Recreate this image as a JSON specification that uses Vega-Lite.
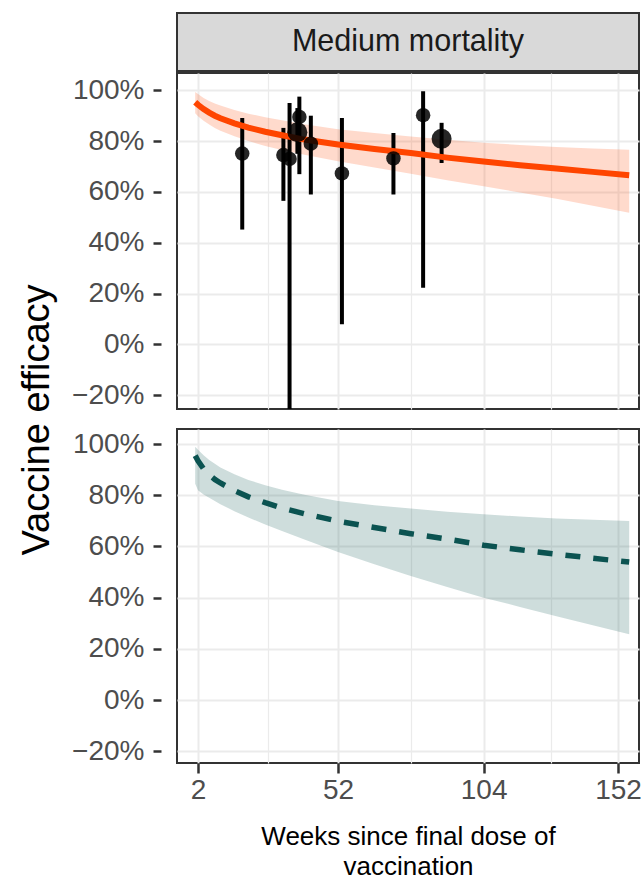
{
  "$schema": "https://vega.github.io/schema/vega-lite/v6.json",
  "background": "white",
  "padding": {"left": 18, "top": 12, "right": 4, "bottom": 2},
  "spacing": 17,
  "title": {"text": "Vaccine efficacy", "orient": "left", "anchor": "middle", "fontSize": 38, "fontWeight": "normal", "color": "#000000", "font": "Liberation Sans", "offset": 14, "dx": 26},
  "config": {
    "font": "Liberation Sans",
    "view": {"stroke": "#333333", "strokeWidth": 2}
  },
  "datasets": {
    "curves": [
      {"week": 1, "model": "fit", "est": 0.953, "lo": 0.910, "hi": 0.993},
      {"week": 2, "model": "fit", "est": 0.943, "lo": 0.898, "hi": 0.985},
      {"week": 4, "model": "fit", "est": 0.926, "lo": 0.880, "hi": 0.970},
      {"week": 6, "model": "fit", "est": 0.912, "lo": 0.865, "hi": 0.958},
      {"week": 8, "model": "fit", "est": 0.900, "lo": 0.852, "hi": 0.948},
      {"week": 10, "model": "fit", "est": 0.890, "lo": 0.841, "hi": 0.940},
      {"week": 15, "model": "fit", "est": 0.870, "lo": 0.819, "hi": 0.922},
      {"week": 20, "model": "fit", "est": 0.853, "lo": 0.800, "hi": 0.908},
      {"week": 26, "model": "fit", "est": 0.837, "lo": 0.781, "hi": 0.894},
      {"week": 32, "model": "fit", "est": 0.823, "lo": 0.765, "hi": 0.882},
      {"week": 40, "model": "fit", "est": 0.806, "lo": 0.746, "hi": 0.866},
      {"week": 52, "model": "fit", "est": 0.787, "lo": 0.721, "hi": 0.847},
      {"week": 65, "model": "fit", "est": 0.769, "lo": 0.696, "hi": 0.832},
      {"week": 78, "model": "fit", "est": 0.753, "lo": 0.672, "hi": 0.818},
      {"week": 91, "model": "fit", "est": 0.735, "lo": 0.646, "hi": 0.805},
      {"week": 104, "model": "fit", "est": 0.720, "lo": 0.622, "hi": 0.794},
      {"week": 117, "model": "fit", "est": 0.705, "lo": 0.598, "hi": 0.785},
      {"week": 130, "model": "fit", "est": 0.692, "lo": 0.573, "hi": 0.777},
      {"week": 143, "model": "fit", "est": 0.679, "lo": 0.546, "hi": 0.771},
      {"week": 156, "model": "fit", "est": 0.666, "lo": 0.518, "hi": 0.766},
      {"week": 1, "model": "proj", "est": 0.955, "lo": 0.845, "hi": 0.990},
      {"week": 2, "model": "proj", "est": 0.935, "lo": 0.820, "hi": 0.978},
      {"week": 4, "model": "proj", "est": 0.903, "lo": 0.803, "hi": 0.956},
      {"week": 6, "model": "proj", "est": 0.880, "lo": 0.790, "hi": 0.938},
      {"week": 8, "model": "proj", "est": 0.862, "lo": 0.778, "hi": 0.923},
      {"week": 10, "model": "proj", "est": 0.848, "lo": 0.765, "hi": 0.909},
      {"week": 15, "model": "proj", "est": 0.818, "lo": 0.738, "hi": 0.882},
      {"week": 20, "model": "proj", "est": 0.794, "lo": 0.713, "hi": 0.860},
      {"week": 26, "model": "proj", "est": 0.771, "lo": 0.686, "hi": 0.839},
      {"week": 32, "model": "proj", "est": 0.750, "lo": 0.660, "hi": 0.822},
      {"week": 40, "model": "proj", "est": 0.728, "lo": 0.627, "hi": 0.802},
      {"week": 52, "model": "proj", "est": 0.699, "lo": 0.578, "hi": 0.778},
      {"week": 65, "model": "proj", "est": 0.674, "lo": 0.531, "hi": 0.761},
      {"week": 78, "model": "proj", "est": 0.650, "lo": 0.485, "hi": 0.748},
      {"week": 91, "model": "proj", "est": 0.629, "lo": 0.442, "hi": 0.736},
      {"week": 104, "model": "proj", "est": 0.605, "lo": 0.400, "hi": 0.726},
      {"week": 117, "model": "proj", "est": 0.587, "lo": 0.364, "hi": 0.717},
      {"week": 130, "model": "proj", "est": 0.570, "lo": 0.327, "hi": 0.709},
      {"week": 143, "model": "proj", "est": 0.554, "lo": 0.292, "hi": 0.704},
      {"week": 156, "model": "proj", "est": 0.539, "lo": 0.257, "hi": 0.700}
    ],
    "studies": [
      {"week": 17.8, "ve": 0.751, "lo": 0.452, "hi": 0.891, "weight": 1},
      {"week": 32.5, "ve": 0.745, "lo": 0.565, "hi": 0.852, "weight": 1},
      {"week": 34.7, "ve": 0.730, "lo": -0.45, "hi": 0.950, "weight": 1},
      {"week": 37.5, "ve": 0.835, "lo": 0.750, "hi": 0.930, "weight": 2},
      {"week": 38.2, "ve": 0.895, "lo": 0.670, "hi": 0.975, "weight": 1},
      {"week": 42.3, "ve": 0.790, "lo": 0.590, "hi": 0.900, "weight": 1},
      {"week": 53.4, "ve": 0.673, "lo": 0.079, "hi": 0.891, "weight": 1},
      {"week": 71.8, "ve": 0.732, "lo": 0.590, "hi": 0.832, "weight": 1},
      {"week": 82.4, "ve": 0.902, "lo": 0.223, "hi": 0.996, "weight": 1},
      {"week": 89.0, "ve": 0.809, "lo": 0.714, "hi": 0.872, "weight": 2}
    ]
  },
  "vconcat": [
    {
      "spacing": 0,
      "vconcat": [
        {
          "data": {"values": [{"label": "Medium mortality"}]},
          "width": 462,
          "height": 58,
          "view": {"fill": "#d9d9d9", "stroke": "#333333", "strokeWidth": 2},
          "mark": {"type": "text", "fontSize": 30.5, "color": "#1a1a1a", "font": "Liberation Sans"},
          "encoding": {"text": {"field": "label", "type": "nominal"}}
        },
        {
          "width": 462,
          "height": 336,
          "layer": [
            {
              "data": {"name": "curves"},
              "transform": [{"filter": "datum.model == 'fit'"}],
              "mark": {"type": "area", "color": "#ff4500", "opacity": 0.2},
              "encoding": {
                "x": {
                  "field": "week", "type": "quantitative",
                  "scale": {"domain": [-5.5, 159.5], "nice": false, "zero": false},
                  "axis": {
                    "values": [2, 27, 52, 78, 104, 128, 152],
                    "labels": false, "ticks": false, "domain": false, "title": null,
                    "gridColor": "#ebebeb",
                    "gridWidth": {"condition": {"test": "indexof([2,52,104,152], datum.value) < 0", "value": 1.2}, "value": 2}
                  }
                },
                "y": {
                  "field": "lo", "type": "quantitative",
                  "scale": {"domain": [-0.254, 1.068], "nice": false, "zero": false},
                  "axis": {
                    "values": [-0.2, -0.1, 0, 0.1, 0.2, 0.3, 0.4, 0.5, 0.6, 0.7, 0.8, 0.9, 1.0],
                    "labelExpr": "round(datum.value*10) % 2 == 0 ? format(datum.value, '.0%') : ''",
                    "tickOpacity": {"condition": {"test": "round(datum.value*10) % 2 != 0", "value": 0}, "value": 1},
                    "gridWidth": {"condition": {"test": "round(datum.value*10) % 2 != 0", "value": 1.2}, "value": 2},
                    "gridColor": "#ebebeb",
                    "domain": false,
                    "offset": 16,
                    "tickSize": 8, "tickWidth": 2.5, "tickColor": "#333333",
                    "labelFontSize": 28, "labelColor": "#4d4d4d", "labelPadding": 9,
                    "title": null
                  }
                },
                "y2": {"field": "hi"}
              }
            },
            {
              "mark": {"type": "rule", "color": "#000000", "strokeWidth": 2.5},
              "encoding": {"y": {"datum": 0}}
            },
            {
              "data": {"name": "studies"},
              "mark": {"type": "rule", "color": "#000000", "strokeWidth": 4, "clip": true},
              "encoding": {
                "x": {"field": "week", "type": "quantitative"},
                "y": {"field": "lo", "type": "quantitative"},
                "y2": {"field": "hi"}
              }
            },
            {
              "data": {"name": "curves"},
              "transform": [{"filter": "datum.model == 'fit'"}],
              "mark": {"type": "line", "color": "#ff4500", "strokeWidth": 6},
              "encoding": {
                "x": {"field": "week", "type": "quantitative"},
                "y": {"field": "est", "type": "quantitative"}
              }
            },
            {
              "data": {"name": "studies"},
              "mark": {"type": "circle", "color": "#000000", "opacity": 0.85},
              "encoding": {
                "x": {"field": "week", "type": "quantitative"},
                "y": {"field": "ve", "type": "quantitative"},
                "size": {"field": "weight", "type": "quantitative", "scale": {"domain": [1, 2], "range": [210, 400]}, "legend": null}
              }
            }
          ]
        }
      ]
    },
    {
      "width": 462,
      "height": 334,
      "layer": [
        {
          "data": {"name": "curves"},
          "transform": [{"filter": "datum.model == 'proj'"}],
          "mark": {"type": "area", "color": "#0b5351", "opacity": 0.2},
          "encoding": {
            "x": {
              "field": "week", "type": "quantitative",
              "scale": {"domain": [-5.5, 159.5], "nice": false, "zero": false},
              "axis": {
                "values": [2, 27, 52, 78, 104, 128, 152],
                "labelExpr": "indexof([2,52,104,152], datum.value) >= 0 ? datum.label : ''",
                "tickOpacity": {"condition": {"test": "indexof([2,52,104,152], datum.value) < 0", "value": 0}, "value": 1},
                "gridWidth": {"condition": {"test": "indexof([2,52,104,152], datum.value) < 0", "value": 1.2}, "value": 2},
                "gridColor": "#ebebeb",
                "domain": false,
                "tickSize": 10, "tickWidth": 2.5, "tickColor": "#333333",
                "labelFontSize": 28, "labelColor": "#4d4d4d", "labelPadding": 3,
                "title": ["Weeks since final dose of", "vaccination"],
                "titleFontSize": 26, "titleFontWeight": "normal", "titleColor": "#000000",
                "titleLineHeight": 30, "titlePadding": 19
              }
            },
            "y": {
              "field": "lo", "type": "quantitative",
              "scale": {"domain": [-0.246, 1.059], "nice": false, "zero": false},
              "axis": {
                "values": [-0.2, -0.1, 0, 0.1, 0.2, 0.3, 0.4, 0.5, 0.6, 0.7, 0.8, 0.9, 1.0],
                "labelExpr": "round(datum.value*10) % 2 == 0 ? format(datum.value, '.0%') : ''",
                "tickOpacity": {"condition": {"test": "round(datum.value*10) % 2 != 0", "value": 0}, "value": 1},
                "gridWidth": {"condition": {"test": "round(datum.value*10) % 2 != 0", "value": 1.2}, "value": 2},
                "gridColor": "#ebebeb",
                "domain": false,
                "offset": 16,
                "tickSize": 8, "tickWidth": 2.5, "tickColor": "#333333",
                "labelFontSize": 28, "labelColor": "#4d4d4d", "labelPadding": 9,
                "title": null
              }
            },
            "y2": {"field": "hi"}
          }
        },
        {
          "mark": {"type": "rule", "color": "#000000", "strokeWidth": 2.5},
          "encoding": {"y": {"datum": 0}}
        },
        {
          "data": {"name": "curves"},
          "transform": [{"filter": "datum.model == 'proj'"}],
          "mark": {"type": "line", "color": "#0b5351", "strokeWidth": 5.5, "strokeDash": [15, 13]},
          "encoding": {
            "x": {"field": "week", "type": "quantitative"},
            "y": {"field": "est", "type": "quantitative"}
          }
        }
      ]
    }
  ]
}
